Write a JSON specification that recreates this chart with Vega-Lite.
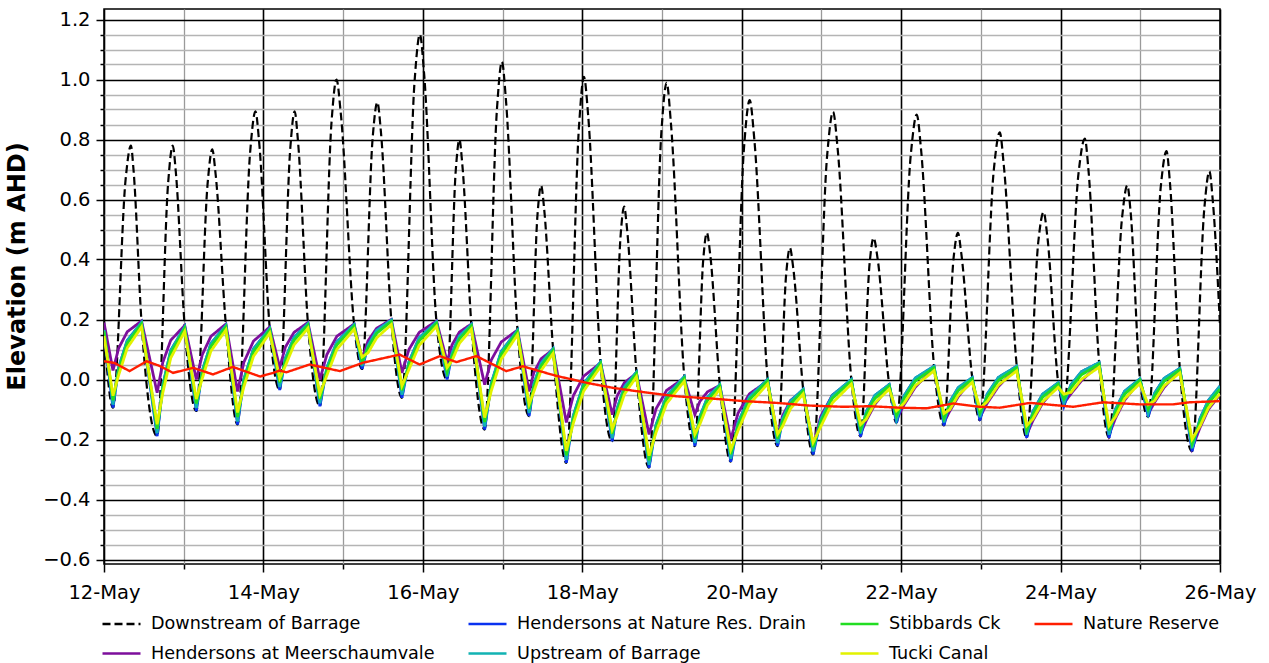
{
"$schema": "https://vega.github.io/schema/vega-lite/v6.json",
"width": 1116, "height": 555,
"autosize": {"type": "none"},
"padding": {"left": 104, "top": 9, "right": 49, "bottom": 99},
"background": "white",
"config": {
  "font": "DejaVu Sans",
  "view": {"stroke": "black", "strokeWidth": 1.5},
  "legend": {"orient": "none", "legendX": -3, "legendY": 594, "columns": 4, "symbolType": "stroke", "symbolSize": 1444, "symbolStrokeWidth": 2.5, "labelFontSize": 17.6, "labelFont": "DejaVu Sans", "labelColor": "black", "columnPadding": 28, "rowPadding": -20, "labelOffset": 9, "padding": 0, "labelLimit": 600}
},
"datasets": {
"dn": [{"h":0,"v":0.16},{"h":2.7,"v":-0.094},{"h":6.5,"v":0.666},{"h":8.1,"v":0.78},{"h":8.9,"v":0.697},{"h":11.3,"v":0.19},
{"h":16.0,"v":-0.189},{"h":19.3,"v":0.654},{"h":20.7,"v":0.78},{"h":21.6,"v":0.695},{"h":24.3,"v":0.175},
{"h":27.8,"v":-0.105},{"h":31.2,"v":0.654},{"h":32.6,"v":0.767},{"h":33.6,"v":0.685},{"h":36.7,"v":0.18},
{"h":40.2,"v":-0.15},{"h":44.0,"v":0.758},{"h":45.6,"v":0.894},{"h":46.7,"v":0.793},{"h":49.9,"v":0.17},
{"h":52.9,"v":-0.035},{"h":56.1,"v":0.773},{"h":57.4,"v":0.894},{"h":58.4,"v":0.795},{"h":61.4,"v":0.186},
{"h":65.0,"v":-0.089},{"h":68.5,"v":0.858},{"h":70.0,"v":1.0},{"h":71.3,"v":0.886},{"h":75.3,"v":0.183},
{"h":77.7,"v":0.035},{"h":80.9,"v":0.808},{"h":82.3,"v":0.924},{"h":83.4,"v":0.822},{"h":86.5,"v":0.198},
{"h":89.7,"v":-0.061},{"h":93.5,"v":0.993},{"h":95.1,"v":1.15},{"h":96.4,"v":1.016},{"h":100.1,"v":0.192},
{"h":103.3,"v":0.0},{"h":105.9,"v":0.696},{"h":107.0,"v":0.80},{"h":107.9,"v":0.714},{"h":110.6,"v":0.183},
{"h":114.6,"v":-0.167},{"h":118.3,"v":0.90},{"h":119.8,"v":1.059},{"h":121.0,"v":0.934},{"h":124.5,"v":0.164},
{"h":128.0,"v":-0.122},{"h":130.5,"v":0.547},{"h":131.6,"v":0.647},{"h":132.5,"v":0.571},{"h":135.2,"v":0.102},
{"h":139.2,"v":-0.278},{"h":143.0,"v":0.842},{"h":144.5,"v":1.009},{"h":145.8,"v":0.876},{"h":149.5,"v":0.058},
{"h":153.0,"v":-0.206},{"h":155.5,"v":0.474},{"h":156.6,"v":0.576},{"h":157.5,"v":0.499},{"h":160.3,"v":0.024},
{"h":164.1,"v":-0.294},{"h":167.8,"v":0.822},{"h":169.4,"v":0.989},{"h":170.7,"v":0.852},{"h":174.7,"v":0.009},
{"h":177.9,"v":-0.222},{"h":180.4,"v":0.397},{"h":181.5,"v":0.489},{"h":182.5,"v":0.418},{"h":185.4,"v":-0.017},
{"h":188.7,"v":-0.274},{"h":192.7,"v":0.774},{"h":194.4,"v":0.931},{"h":195.8,"v":0.80},{"h":199.8,"v":0.0},
{"h":202.8,"v":-0.222},{"h":205.4,"v":0.353},{"h":206.5,"v":0.439},{"h":207.5,"v":0.373},{"h":210.5,"v":-0.033},
{"h":213.5,"v":-0.25},{"h":217.7,"v":0.744},{"h":219.5,"v":0.892},{"h":220.9,"v":0.767},{"h":225.0,"v":0.0},
{"h":227.8,"v":-0.19},{"h":230.5,"v":0.386},{"h":231.7,"v":0.472},{"h":232.9,"v":0.404},{"h":236.4,"v":-0.017},
{"h":238.6,"v":-0.144},{"h":242.9,"v":0.749},{"h":244.7,"v":0.883},{"h":246.0,"v":0.766},{"h":249.9,"v":0.044},
{"h":252.9,"v":-0.153},{"h":255.8,"v":0.406},{"h":257.1,"v":0.489},{"h":258.1,"v":0.421},{"h":261.4,"v":0.006},
{"h":263.7,"v":-0.136},{"h":267.9,"v":0.699},{"h":269.7,"v":0.824},{"h":270.9,"v":0.715},{"h":274.8,"v":0.044},
{"h":277.8,"v":-0.194},{"h":281.3,"v":0.460},{"h":282.9,"v":0.558},{"h":284.0,"v":0.478},{"h":287.3,"v":-0.011},
{"h":289.0,"v":-0.089},{"h":293.4,"v":0.687},{"h":295.3,"v":0.803},{"h":296.4,"v":0.698},{"h":299.6,"v":0.056},
{"h":302.6,"v":-0.194},{"h":306.5,"v":0.538},{"h":308.1,"v":0.647},{"h":309.1,"v":0.557},{"h":311.9,"v":0.002},
{"h":314.4,"v":-0.124},{"h":318.2,"v":0.646},{"h":319.9,"v":0.761},{"h":320.9,"v":0.66},{"h":323.9,"v":0.037},
{"h":327.6,"v":-0.239},{"h":331.3,"v":0.573},{"h":332.8,"v":0.694},{"h":333.8,"v":0.60},{"h":336,"v":0.18}],
"m": [{"h":0,"v":0.19},{"h":2.7,"v":0.03},{"h":4.4,"v":0.104},{"h":7.0,"v":0.159},{"h":11.3,"v":0.195},
{"h":16.0,"v":-0.044},{"h":17.7,"v":0.057},{"h":20.1,"v":0.131},{"h":24.3,"v":0.18},
{"h":27.8,"v":0.0},{"h":29.6,"v":0.083},{"h":32.2,"v":0.144},{"h":36.7,"v":0.185},
{"h":40.2,"v":-0.04},{"h":42.1,"v":0.057},{"h":45.0,"v":0.128},{"h":49.9,"v":0.175},
{"h":52.9,"v":0.04},{"h":54.6,"v":0.108},{"h":57.2,"v":0.157},{"h":61.4,"v":0.19},
{"h":65.0,"v":0.0},{"h":67.1,"v":0.083},{"h":70.1,"v":0.144},{"h":75.3,"v":0.185},
{"h":77.7,"v":0.07},{"h":79.5,"v":0.129},{"h":82.1,"v":0.171},{"h":86.5,"v":0.2},
{"h":89.7,"v":0.022},{"h":91.8,"v":0.1},{"h":94.9,"v":0.157},{"h":100.1,"v":0.195},
{"h":103.3,"v":0.06},{"h":104.8,"v":0.116},{"h":107.0,"v":0.158},{"h":110.6,"v":0.185},
{"h":114.6,"v":-0.017},{"h":116.6,"v":0.065},{"h":119.6,"v":0.125},{"h":124.5,"v":0.165},
{"h":128.0,"v":-0.04},{"h":129.4,"v":0.023},{"h":131.6,"v":0.069},{"h":135.2,"v":0.10},
{"h":139.2,"v":-0.143},{"h":141.3,"v":-0.054},{"h":144.4,"v":0.011},{"h":149.5,"v":0.055},
{"h":153.0,"v":-0.117},{"h":154.5,"v":-0.055},{"h":156.7,"v":-0.01},{"h":160.3,"v":0.02},
{"h":164.1,"v":-0.183},{"h":166.2,"v":-0.098},{"h":169.4,"v":-0.036},{"h":174.7,"v":0.005},
{"h":177.9,"v":-0.117},{"h":179.4,"v":-0.073},{"h":181.7,"v":-0.041},{"h":185.4,"v":-0.02},
{"h":188.7,"v":-0.2},{"h":190.9,"v":-0.112},{"h":194.3,"v":-0.048},{"h":199.8,"v":-0.005},
{"h":202.8,"v":-0.19},{"h":204.3,"v":-0.121},{"h":206.7,"v":-0.07},{"h":210.5,"v":-0.036},
{"h":213.5,"v":-0.22},{"h":215.8,"v":-0.123},{"h":219.3,"v":-0.052},{"h":225.0,"v":-0.005},
{"h":227.8,"v":-0.18},{"h":229.5,"v":-0.137},{"h":232.1,"v":-0.083},{"h":236.4,"v":-0.022},
{"h":238.6,"v":-0.134},{"h":240.9,"v":-0.084},{"h":244.3,"v":-0.025},{"h":249.9,"v":0.039},
{"h":252.9,"v":-0.143},{"h":254.6,"v":-0.106},{"h":257.2,"v":-0.057},{"h":261.4,"v":0.001},
{"h":263.7,"v":-0.126},{"h":265.9,"v":-0.079},{"h":269.3,"v":-0.023},{"h":274.8,"v":0.039},
{"h":277.8,"v":-0.184},{"h":279.7,"v":-0.136},{"h":282.6,"v":-0.079},{"h":287.3,"v":-0.016},
{"h":289.0,"v":-0.079},{"h":291.1,"v":-0.048},{"h":294.3,"v":-0.004},{"h":299.6,"v":0.051},
{"h":302.6,"v":-0.184},{"h":304.5,"v":-0.13},{"h":307.3,"v":-0.069},{"h":311.9,"v":-0.003},
{"h":314.4,"v":-0.114},{"h":316.3,"v":-0.076},{"h":319.2,"v":-0.026},{"h":323.9,"v":0.032},
{"h":327.6,"v":-0.229},{"h":330.0,"v":-0.16},{"h":332.5,"v":-0.10},{"h":336,"v":-0.05}],
"n": [{"h":0,"v":0.155},{"h":2.7,"v":-0.094},{"h":4.4,"v":0.039},{"h":7.0,"v":0.130},{"h":11.3,"v":0.19},
{"h":16.0,"v":-0.189},{"h":17.7,"v":-0.020},{"h":20.1,"v":0.097},{"h":24.3,"v":0.175},
{"h":27.8,"v":-0.105},{"h":29.6,"v":0.029},{"h":32.2,"v":0.120},{"h":36.7,"v":0.18},
{"h":40.2,"v":-0.15},{"h":42.1,"v":0.0},{"h":45.0,"v":0.102},{"h":49.9,"v":0.17},
{"h":52.9,"v":-0.035},{"h":54.6,"v":0.070},{"h":57.2,"v":0.140},{"h":61.4,"v":0.186},
{"h":65.0,"v":-0.089},{"h":67.1,"v":0.039},{"h":70.1,"v":0.125},{"h":75.3,"v":0.183},
{"h":77.7,"v":0.035},{"h":79.5,"v":0.114},{"h":82.1,"v":0.164},{"h":86.5,"v":0.198},
{"h":89.7,"v":-0.061},{"h":91.8,"v":0.058},{"h":94.9,"v":0.139},{"h":100.1,"v":0.192},
{"h":103.3,"v":0.0},{"h":104.8,"v":0.088},{"h":107.0,"v":0.145},{"h":110.6,"v":0.183},
{"h":114.6,"v":-0.167},{"h":116.6,"v":-0.013},{"h":119.6,"v":0.093},{"h":124.5,"v":0.164},
{"h":128.0,"v":-0.122},{"h":129.4,"v":-0.016},{"h":131.6,"v":0.055},{"h":135.2,"v":0.102},
{"h":139.2,"v":-0.278},{"h":141.3,"v":-0.121},{"h":144.4,"v":-0.014},{"h":149.5,"v":0.058},
{"h":153.0,"v":-0.206},{"h":154.5,"v":-0.097},{"h":156.7,"v":-0.024},{"h":160.3,"v":0.024},
{"h":164.1,"v":-0.294},{"h":166.2,"v":-0.152},{"h":169.4,"v":-0.055},{"h":174.7,"v":0.009},
{"h":177.9,"v":-0.222},{"h":179.4,"v":-0.124},{"h":181.7,"v":-0.060},{"h":185.4,"v":-0.017},
{"h":188.7,"v":-0.274},{"h":190.9,"v":-0.145},{"h":194.3,"v":-0.058},{"h":199.8,"v":0.0},
{"h":202.8,"v":-0.222},{"h":204.3,"v":-0.131},{"h":206.7,"v":-0.072},{"h":210.5,"v":-0.033},
{"h":213.5,"v":-0.25},{"h":215.8,"v":-0.132},{"h":219.3,"v":-0.053},{"h":225.0,"v":0.0},
{"h":227.8,"v":-0.19},{"h":229.5,"v":-0.107},{"h":232.1,"v":-0.053},{"h":236.4,"v":-0.017},
{"h":238.6,"v":-0.144},{"h":240.9,"v":-0.054},{"h":244.3,"v":0.005},{"h":249.9,"v":0.044},
{"h":252.9,"v":-0.153},{"h":254.6,"v":-0.076},{"h":257.2,"v":-0.027},{"h":261.4,"v":0.006},
{"h":263.7,"v":-0.136},{"h":265.9,"v":-0.049},{"h":269.3,"v":0.007},{"h":274.8,"v":0.044},
{"h":277.8,"v":-0.194},{"h":279.7,"v":-0.106},{"h":282.6,"v":-0.049},{"h":287.3,"v":-0.011},
{"h":289.0,"v":-0.089},{"h":291.1,"v":-0.018},{"h":294.3,"v":0.026},{"h":299.6,"v":0.056},
{"h":302.6,"v":-0.194},{"h":304.5,"v":-0.100},{"h":307.3,"v":-0.039},{"h":311.9,"v":0.002},
{"h":314.4,"v":-0.124},{"h":316.3,"v":-0.046},{"h":319.2,"v":0.004},{"h":323.9,"v":0.037},
{"h":327.6,"v":-0.239},{"h":330.0,"v":-0.13},{"h":332.5,"v":-0.07},{"h":336,"v":-0.022}],
"u": [{"h":0,"v":0.165},{"h":2.7,"v":-0.084},{"h":4.4,"v":0.039},{"h":7.0,"v":0.130},{"h":11.3,"v":0.19},
{"h":16.0,"v":-0.179},{"h":17.7,"v":-0.020},{"h":20.1,"v":0.097},{"h":24.3,"v":0.175},
{"h":27.8,"v":-0.095},{"h":29.6,"v":0.029},{"h":32.2,"v":0.120},{"h":36.7,"v":0.18},
{"h":40.2,"v":-0.14},{"h":42.1,"v":0.0},{"h":45.0,"v":0.102},{"h":49.9,"v":0.17},
{"h":52.9,"v":-0.025},{"h":54.6,"v":0.070},{"h":57.2,"v":0.140},{"h":61.4,"v":0.186},
{"h":65.0,"v":-0.079},{"h":67.1,"v":0.039},{"h":70.1,"v":0.125},{"h":75.3,"v":0.183},
{"h":77.7,"v":0.045},{"h":79.5,"v":0.114},{"h":82.1,"v":0.164},{"h":86.5,"v":0.198},
{"h":89.7,"v":-0.051},{"h":91.8,"v":0.058},{"h":94.9,"v":0.139},{"h":100.1,"v":0.192},
{"h":103.3,"v":0.01},{"h":104.8,"v":0.088},{"h":107.0,"v":0.145},{"h":110.6,"v":0.183},
{"h":114.6,"v":-0.157},{"h":116.6,"v":-0.013},{"h":119.6,"v":0.093},{"h":124.5,"v":0.164},
{"h":128.0,"v":-0.112},{"h":129.4,"v":-0.016},{"h":131.6,"v":0.055},{"h":135.2,"v":0.102},
{"h":139.2,"v":-0.268},{"h":141.3,"v":-0.121},{"h":144.4,"v":-0.014},{"h":149.5,"v":0.058},
{"h":153.0,"v":-0.196},{"h":154.5,"v":-0.097},{"h":156.7,"v":-0.024},{"h":160.3,"v":0.024},
{"h":164.1,"v":-0.284},{"h":166.2,"v":-0.152},{"h":169.4,"v":-0.055},{"h":174.7,"v":0.009},
{"h":177.9,"v":-0.212},{"h":179.4,"v":-0.124},{"h":181.7,"v":-0.060},{"h":185.4,"v":-0.017},
{"h":188.7,"v":-0.264},{"h":190.9,"v":-0.145},{"h":194.3,"v":-0.058},{"h":199.8,"v":0.0},
{"h":202.8,"v":-0.212},{"h":204.3,"v":-0.131},{"h":206.7,"v":-0.072},{"h":210.5,"v":-0.033},
{"h":213.5,"v":-0.24},{"h":215.8,"v":-0.132},{"h":219.3,"v":-0.053},{"h":225.0,"v":0.0},
{"h":227.8,"v":-0.18},{"h":229.5,"v":-0.107},{"h":232.1,"v":-0.053},{"h":236.4,"v":-0.017},
{"h":238.6,"v":-0.134},{"h":240.9,"v":-0.054},{"h":244.3,"v":0.005},{"h":249.9,"v":0.044},
{"h":252.9,"v":-0.143},{"h":254.6,"v":-0.076},{"h":257.2,"v":-0.027},{"h":261.4,"v":0.006},
{"h":263.7,"v":-0.126},{"h":265.9,"v":-0.049},{"h":269.3,"v":0.007},{"h":274.8,"v":0.044},
{"h":277.8,"v":-0.184},{"h":279.7,"v":-0.106},{"h":282.6,"v":-0.049},{"h":287.3,"v":-0.011},
{"h":289.0,"v":-0.079},{"h":291.1,"v":-0.018},{"h":294.3,"v":0.026},{"h":299.6,"v":0.056},
{"h":302.6,"v":-0.184},{"h":304.5,"v":-0.100},{"h":307.3,"v":-0.039},{"h":311.9,"v":0.002},
{"h":314.4,"v":-0.114},{"h":316.3,"v":-0.046},{"h":319.2,"v":0.004},{"h":323.9,"v":0.037},
{"h":327.6,"v":-0.229},{"h":330.0,"v":-0.13},{"h":332.5,"v":-0.07},{"h":336,"v":-0.022}],
"s": [{"h":0,"v":0.16},{"h":2.7,"v":-0.069},{"h":4.4,"v":0.029},{"h":7.0,"v":0.120},{"h":11.3,"v":0.185},
{"h":16.0,"v":-0.164},{"h":17.7,"v":-0.030},{"h":20.1,"v":0.087},{"h":24.3,"v":0.170},
{"h":27.8,"v":-0.080},{"h":29.6,"v":0.019},{"h":32.2,"v":0.110},{"h":36.7,"v":0.175},
{"h":40.2,"v":-0.125},{"h":42.1,"v":-0.010},{"h":45.0,"v":0.092},{"h":49.9,"v":0.165},
{"h":52.9,"v":-0.010},{"h":54.6,"v":0.060},{"h":57.2,"v":0.130},{"h":61.4,"v":0.181},
{"h":65.0,"v":-0.064},{"h":67.1,"v":0.029},{"h":70.1,"v":0.115},{"h":75.3,"v":0.178},
{"h":77.7,"v":0.060},{"h":79.5,"v":0.104},{"h":82.1,"v":0.154},{"h":86.5,"v":0.193},
{"h":89.7,"v":-0.036},{"h":91.8,"v":0.048},{"h":94.9,"v":0.129},{"h":100.1,"v":0.187},
{"h":103.3,"v":0.025},{"h":104.8,"v":0.078},{"h":107.0,"v":0.135},{"h":110.6,"v":0.178},
{"h":114.6,"v":-0.142},{"h":116.6,"v":-0.023},{"h":119.6,"v":0.083},{"h":124.5,"v":0.159},
{"h":128.0,"v":-0.097},{"h":129.4,"v":-0.026},{"h":131.6,"v":0.045},{"h":135.2,"v":0.097},
{"h":139.2,"v":-0.253},{"h":141.3,"v":-0.131},{"h":144.4,"v":-0.024},{"h":149.5,"v":0.053},
{"h":153.0,"v":-0.181},{"h":154.5,"v":-0.107},{"h":156.7,"v":-0.034},{"h":160.3,"v":0.019},
{"h":164.1,"v":-0.269},{"h":166.2,"v":-0.162},{"h":169.4,"v":-0.065},{"h":174.7,"v":0.004},
{"h":177.9,"v":-0.197},{"h":179.4,"v":-0.134},{"h":181.7,"v":-0.070},{"h":185.4,"v":-0.022},
{"h":188.7,"v":-0.249},{"h":190.9,"v":-0.155},{"h":194.3,"v":-0.068},{"h":199.8,"v":-0.005},
{"h":202.8,"v":-0.197},{"h":204.3,"v":-0.141},{"h":206.7,"v":-0.082},{"h":210.5,"v":-0.038},
{"h":213.5,"v":-0.225},{"h":215.8,"v":-0.142},{"h":219.3,"v":-0.063},{"h":225.0,"v":-0.005},
{"h":227.8,"v":-0.165},{"h":229.5,"v":-0.117},{"h":232.1,"v":-0.063},{"h":236.4,"v":-0.022},
{"h":238.6,"v":-0.119},{"h":240.9,"v":-0.064},{"h":244.3,"v":-0.005},{"h":249.9,"v":0.039},
{"h":252.9,"v":-0.128},{"h":254.6,"v":-0.086},{"h":257.2,"v":-0.037},{"h":261.4,"v":0.001},
{"h":263.7,"v":-0.111},{"h":265.9,"v":-0.059},{"h":269.3,"v":-0.003},{"h":274.8,"v":0.039},
{"h":277.8,"v":-0.169},{"h":279.7,"v":-0.116},{"h":282.6,"v":-0.059},{"h":287.3,"v":-0.016},
{"h":289.0,"v":-0.064},{"h":291.1,"v":-0.028},{"h":294.3,"v":0.016},{"h":299.6,"v":0.051},
{"h":302.6,"v":-0.169},{"h":304.5,"v":-0.110},{"h":307.3,"v":-0.049},{"h":311.9,"v":-0.003},
{"h":314.4,"v":-0.099},{"h":316.3,"v":-0.056},{"h":319.2,"v":-0.006},{"h":323.9,"v":0.032},
{"h":327.6,"v":-0.214},{"h":330.0,"v":-0.14},{"h":332.5,"v":-0.08},{"h":336,"v":-0.032}],
"k": [{"h":0,"v":0.145},{"h":2.7,"v":-0.054},{"h":4.4,"v":0.014},{"h":7.0,"v":0.105},{"h":11.3,"v":0.175},
{"h":16.0,"v":-0.149},{"h":17.7,"v":-0.045},{"h":20.1,"v":0.072},{"h":24.3,"v":0.160},
{"h":27.8,"v":-0.065},{"h":29.6,"v":0.004},{"h":32.2,"v":0.095},{"h":36.7,"v":0.165},
{"h":40.2,"v":-0.11},{"h":42.1,"v":-0.025},{"h":45.0,"v":0.077},{"h":49.9,"v":0.155},
{"h":52.9,"v":0.005},{"h":54.6,"v":0.045},{"h":57.2,"v":0.115},{"h":61.4,"v":0.171},
{"h":65.0,"v":-0.049},{"h":67.1,"v":0.014},{"h":70.1,"v":0.100},{"h":75.3,"v":0.168},
{"h":77.7,"v":0.075},{"h":79.5,"v":0.089},{"h":82.1,"v":0.139},{"h":86.5,"v":0.183},
{"h":89.7,"v":-0.021},{"h":91.8,"v":0.033},{"h":94.9,"v":0.114},{"h":100.1,"v":0.177},
{"h":103.3,"v":0.04},{"h":104.8,"v":0.063},{"h":107.0,"v":0.120},{"h":110.6,"v":0.168},
{"h":114.6,"v":-0.127},{"h":116.6,"v":-0.038},{"h":119.6,"v":0.068},{"h":124.5,"v":0.149},
{"h":128.0,"v":-0.082},{"h":129.4,"v":-0.041},{"h":131.6,"v":0.030},{"h":135.2,"v":0.087},
{"h":139.2,"v":-0.238},{"h":141.3,"v":-0.146},{"h":144.4,"v":-0.039},{"h":149.5,"v":0.043},
{"h":153.0,"v":-0.166},{"h":154.5,"v":-0.122},{"h":156.7,"v":-0.049},{"h":160.3,"v":0.009},
{"h":164.1,"v":-0.254},{"h":166.2,"v":-0.177},{"h":169.4,"v":-0.080},{"h":174.7,"v":-0.006},
{"h":177.9,"v":-0.182},{"h":179.4,"v":-0.149},{"h":181.7,"v":-0.085},{"h":185.4,"v":-0.032},
{"h":188.7,"v":-0.234},{"h":190.9,"v":-0.170},{"h":194.3,"v":-0.083},{"h":199.8,"v":-0.015},
{"h":202.8,"v":-0.182},{"h":204.3,"v":-0.156},{"h":206.7,"v":-0.097},{"h":210.5,"v":-0.048},
{"h":213.5,"v":-0.21},{"h":215.8,"v":-0.157},{"h":219.3,"v":-0.078},{"h":225.0,"v":-0.015},
{"h":227.8,"v":-0.15},{"h":229.5,"v":-0.132},{"h":232.1,"v":-0.078},{"h":236.4,"v":-0.032},
{"h":238.6,"v":-0.104},{"h":240.9,"v":-0.079},{"h":244.3,"v":-0.020},{"h":249.9,"v":0.029},
{"h":252.9,"v":-0.113},{"h":254.6,"v":-0.101},{"h":257.2,"v":-0.052},{"h":261.4,"v":-0.009},
{"h":263.7,"v":-0.096},{"h":265.9,"v":-0.074},{"h":269.3,"v":-0.018},{"h":274.8,"v":0.029},
{"h":277.8,"v":-0.154},{"h":279.7,"v":-0.131},{"h":282.6,"v":-0.074},{"h":287.3,"v":-0.026},
{"h":289.0,"v":-0.049},{"h":291.1,"v":-0.043},{"h":294.3,"v":0.001},{"h":299.6,"v":0.041},
{"h":302.6,"v":-0.154},{"h":304.5,"v":-0.125},{"h":307.3,"v":-0.064},{"h":311.9,"v":-0.013},
{"h":314.4,"v":-0.084},{"h":316.3,"v":-0.071},{"h":319.2,"v":-0.021},{"h":323.9,"v":0.022},
{"h":327.6,"v":-0.199},{"h":330.0,"v":-0.155},{"h":332.5,"v":-0.095},{"h":336,"v":-0.047}],
"r": [{"h":0,"v":0.061},{"h":3.2,"v":0.055},{"h":7.7,"v":0.028},{"h":12.8,"v":0.061},{"h":16.8,"v":0.045},{"h":20.8,"v":0.022},{"h":26.8,"v":0.039},{"h":32.8,"v":0.017},{"h":38.8,"v":0.042},{"h":47.0,"v":0.010},{"h":50.9,"v":0.022},{"h":52.9,"v":0.030},{"h":54.9,"v":0.024},{"h":61.9,"v":0.050},{"h":71.0,"v":0.028},{"h":78.0,"v":0.056},{"h":89.0,"v":0.083},{"h":95.0,"v":0.050},{"h":101.1,"v":0.078},{"h":106.1,"v":0.058},{"h":112.1,"v":0.078},{"h":121.1,"v":0.028},{"h":126.1,"v":0.044},{"h":136.2,"v":0.012},{"h":140.3,"v":0.002},{"h":145.3,"v":-0.011},{"h":153.3,"v":-0.028},{"h":162.4,"v":-0.042},{"h":172.4,"v":-0.056},{"h":182.5,"v":-0.063},{"h":192.5,"v":-0.072},{"h":202.5,"v":-0.078},{"h":212.5,"v":-0.087},{"h":222.6,"v":-0.091},{"h":230.6,"v":-0.089},{"h":239.6,"v":-0.094},{"h":247.7,"v":-0.096},{"h":255.7,"v":-0.080},{"h":263.7,"v":-0.091},{"h":269.7,"v":-0.094},{"h":278.8,"v":-0.078},{"h":291.8,"v":-0.091},{"h":300.8,"v":-0.076},{"h":311.9,"v":-0.083},{"h":321.9,"v":-0.083},{"h":326.9,"v":-0.076},{"h":336,"v":-0.072}]
},
"encoding": {
  "x": {"field": "h", "type": "quantitative", "scale": {"domain": [0, 336], "nice": false, "zero": false},
    "axis": {"values": [0,24,48,72,96,120,144,168,192,216,240,264,288,312,336],
      "labelExpr": "datum.value % 48 === 0 ? timeFormat(datetime(2019, 4, 12 + datum.value / 24), '%d-%b') : ''",
      "labelFontSize": 19.5, "labelColor": "black", "labelFlush": false, "labelOverlap": false, "labelPadding": 11,
      "tickSize": {"condition": {"test": "datum.value % 48 === 0", "value": 8}, "value": 5},
      "tickColor": "black", "tickWidth": 1.5,
      "grid": true,
      "gridColor": {"condition": {"test": "datum.value % 48 === 0", "value": "black"}, "value": "#9a9a9a"},
      "gridWidth": {"condition": {"test": "datum.value % 48 === 0", "value": 1.6}, "value": 1.3},
      "domain": false, "title": null}},
  "y": {"field": "v", "type": "quantitative", "scale": {"domain": [-0.615, 1.235], "nice": false, "zero": false},
    "axis": {"values": [-0.6,-0.55,-0.5,-0.45,-0.4,-0.35,-0.3,-0.25,-0.2,-0.15,-0.1,-0.05,0,0.05,0.1,0.15,0.2,0.25,0.3,0.35,0.4,0.45,0.5,0.55,0.6,0.65,0.7,0.75,0.8,0.85,0.9,0.95,1.0,1.05,1.1,1.15,1.2],
      "labelExpr": "abs(datum.value * 5 - round(datum.value * 5)) < 0.01 ? replace(format(datum.value, '.1f'), '-', '\u2212') : ''",
      "labelFontSize": 19.5, "labelColor": "black", "labelFlush": false, "labelOverlap": false, "labelPadding": 6,
      "tickSize": {"condition": {"test": "abs(datum.value * 5 - round(datum.value * 5)) < 0.01", "value": 8}, "value": 4},
      "tickColor": "black", "tickWidth": 1.5,
      "grid": true,
      "gridColor": {"condition": {"test": "abs(datum.value * 5 - round(datum.value * 5)) < 0.01", "value": "black"}, "value": "#b4b4b4"},
      "gridWidth": {"condition": {"test": "abs(datum.value * 5 - round(datum.value * 5)) < 0.01", "value": 1.6}, "value": 1.5},
      "domain": false,
      "title": "Elevation (m AHD)", "titleFontSize": 24, "titleFontWeight": "bold", "titleColor": "black", "titlePadding": 13, "titleY": 257}}
},
"layer": [
 {"data": {"name": "dn"}, "mark": {"type": "line", "interpolate": "monotone", "strokeWidth": 2.2, "clip": true},
  "encoding": {
   "color": {"datum": "Downstream of Barrage", "type": "nominal", "scale": {"domain": ["Downstream of Barrage","Hendersons at Meerschaumvale","Hendersons at Nature Res. Drain","Upstream of Barrage","Stibbards Ck","Tucki Canal","Nature Reserve"], "range": ["#000000","#7d0f9c","#0a32f0","#12b3b3","#22dd22","#e2f200","#ff1e00"]}, "legend": {"title": null}},
   "strokeDash": {"datum": "Downstream of Barrage", "type": "nominal", "scale": {"domain": ["Downstream of Barrage","Hendersons at Meerschaumvale","Hendersons at Nature Res. Drain","Upstream of Barrage","Stibbards Ck","Tucki Canal","Nature Reserve"], "range": [[8,4],[1,0],[1,0],[1,0],[1,0],[1,0],[1,0]]}, "legend": {"title": null}}}},
 {"data": {"name": "m"}, "mark": {"type": "line", "strokeWidth": 2.8, "clip": true},
  "encoding": {
   "color": {"datum": "Hendersons at Meerschaumvale", "type": "nominal", "scale": {"domain": ["Downstream of Barrage","Hendersons at Meerschaumvale","Hendersons at Nature Res. Drain","Upstream of Barrage","Stibbards Ck","Tucki Canal","Nature Reserve"], "range": ["#000000","#7d0f9c","#0a32f0","#12b3b3","#22dd22","#e2f200","#ff1e00"]}, "legend": {"title": null}},
   "strokeDash": {"datum": "Hendersons at Meerschaumvale", "type": "nominal", "scale": {"domain": ["Downstream of Barrage","Hendersons at Meerschaumvale","Hendersons at Nature Res. Drain","Upstream of Barrage","Stibbards Ck","Tucki Canal","Nature Reserve"], "range": [[8,4],[1,0],[1,0],[1,0],[1,0],[1,0],[1,0]]}, "legend": {"title": null}}}},
 {"data": {"name": "n"}, "mark": {"type": "line", "strokeWidth": 2.8, "clip": true},
  "encoding": {
   "color": {"datum": "Hendersons at Nature Res. Drain", "type": "nominal", "scale": {"domain": ["Downstream of Barrage","Hendersons at Meerschaumvale","Hendersons at Nature Res. Drain","Upstream of Barrage","Stibbards Ck","Tucki Canal","Nature Reserve"], "range": ["#000000","#7d0f9c","#0a32f0","#12b3b3","#22dd22","#e2f200","#ff1e00"]}, "legend": {"title": null}},
   "strokeDash": {"datum": "Hendersons at Nature Res. Drain", "type": "nominal", "scale": {"domain": ["Downstream of Barrage","Hendersons at Meerschaumvale","Hendersons at Nature Res. Drain","Upstream of Barrage","Stibbards Ck","Tucki Canal","Nature Reserve"], "range": [[8,4],[1,0],[1,0],[1,0],[1,0],[1,0],[1,0]]}, "legend": {"title": null}}}},
 {"data": {"name": "u"}, "mark": {"type": "line", "strokeWidth": 2.8, "clip": true},
  "encoding": {
   "color": {"datum": "Upstream of Barrage", "type": "nominal", "scale": {"domain": ["Downstream of Barrage","Hendersons at Meerschaumvale","Hendersons at Nature Res. Drain","Upstream of Barrage","Stibbards Ck","Tucki Canal","Nature Reserve"], "range": ["#000000","#7d0f9c","#0a32f0","#12b3b3","#22dd22","#e2f200","#ff1e00"]}, "legend": {"title": null}},
   "strokeDash": {"datum": "Upstream of Barrage", "type": "nominal", "scale": {"domain": ["Downstream of Barrage","Hendersons at Meerschaumvale","Hendersons at Nature Res. Drain","Upstream of Barrage","Stibbards Ck","Tucki Canal","Nature Reserve"], "range": [[8,4],[1,0],[1,0],[1,0],[1,0],[1,0],[1,0]]}, "legend": {"title": null}}}},
 {"data": {"name": "s"}, "mark": {"type": "line", "strokeWidth": 2.8, "clip": true},
  "encoding": {
   "color": {"datum": "Stibbards Ck", "type": "nominal", "scale": {"domain": ["Downstream of Barrage","Hendersons at Meerschaumvale","Hendersons at Nature Res. Drain","Upstream of Barrage","Stibbards Ck","Tucki Canal","Nature Reserve"], "range": ["#000000","#7d0f9c","#0a32f0","#12b3b3","#22dd22","#e2f200","#ff1e00"]}, "legend": {"title": null}},
   "strokeDash": {"datum": "Stibbards Ck", "type": "nominal", "scale": {"domain": ["Downstream of Barrage","Hendersons at Meerschaumvale","Hendersons at Nature Res. Drain","Upstream of Barrage","Stibbards Ck","Tucki Canal","Nature Reserve"], "range": [[8,4],[1,0],[1,0],[1,0],[1,0],[1,0],[1,0]]}, "legend": {"title": null}}}},
 {"data": {"name": "k"}, "mark": {"type": "line", "strokeWidth": 2.8, "clip": true},
  "encoding": {
   "color": {"datum": "Tucki Canal", "type": "nominal", "scale": {"domain": ["Downstream of Barrage","Hendersons at Meerschaumvale","Hendersons at Nature Res. Drain","Upstream of Barrage","Stibbards Ck","Tucki Canal","Nature Reserve"], "range": ["#000000","#7d0f9c","#0a32f0","#12b3b3","#22dd22","#e2f200","#ff1e00"]}, "legend": {"title": null}},
   "strokeDash": {"datum": "Tucki Canal", "type": "nominal", "scale": {"domain": ["Downstream of Barrage","Hendersons at Meerschaumvale","Hendersons at Nature Res. Drain","Upstream of Barrage","Stibbards Ck","Tucki Canal","Nature Reserve"], "range": [[8,4],[1,0],[1,0],[1,0],[1,0],[1,0],[1,0]]}, "legend": {"title": null}}}},
 {"data": {"name": "r"}, "mark": {"type": "line", "strokeWidth": 2.4, "clip": true},
  "encoding": {
   "color": {"datum": "Nature Reserve", "type": "nominal", "scale": {"domain": ["Downstream of Barrage","Hendersons at Meerschaumvale","Hendersons at Nature Res. Drain","Upstream of Barrage","Stibbards Ck","Tucki Canal","Nature Reserve"], "range": ["#000000","#7d0f9c","#0a32f0","#12b3b3","#22dd22","#e2f200","#ff1e00"]}, "legend": {"title": null}},
   "strokeDash": {"datum": "Nature Reserve", "type": "nominal", "scale": {"domain": ["Downstream of Barrage","Hendersons at Meerschaumvale","Hendersons at Nature Res. Drain","Upstream of Barrage","Stibbards Ck","Tucki Canal","Nature Reserve"], "range": [[8,4],[1,0],[1,0],[1,0],[1,0],[1,0],[1,0]]}, "legend": {"title": null}}}}
]
}
